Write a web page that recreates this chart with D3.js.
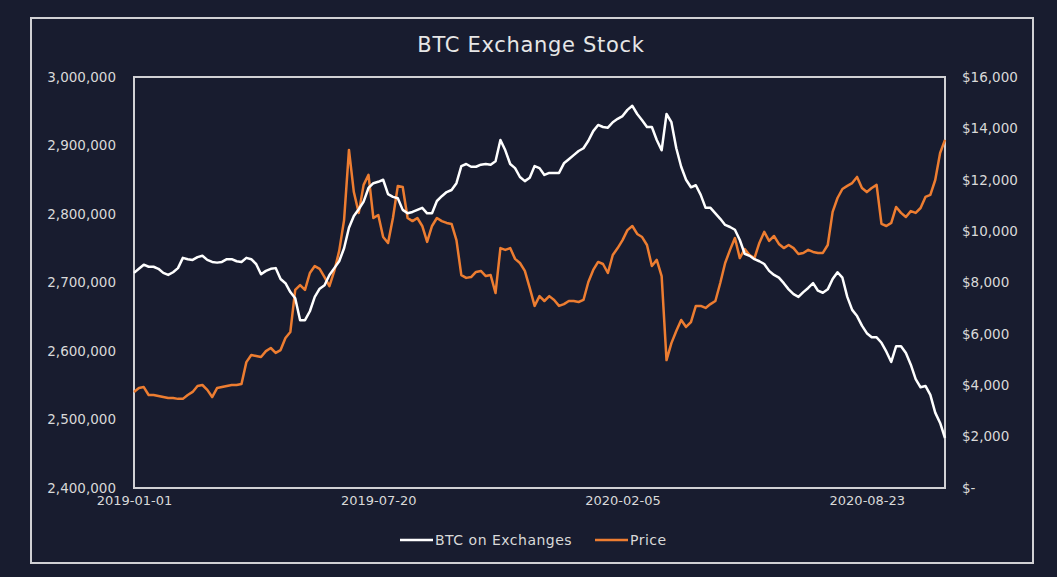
<!DOCTYPE html>
<html>
<head>
<meta charset="utf-8">
<script src="https://cdn.jsdelivr.net/npm/d3@7"></script>
<style>
  html, body { margin: 0; padding: 0; background: #181c2f; }
  svg { display: block; }
  text { font-family: "DejaVu Sans", sans-serif; fill: #d9d9d9; }
</style>
</head>
<body>
<div id="chart"></div>
<script>
// dates every 4 days, 2019-01-01 .. 2020-10-26
var dates = [
  "2019-01-01","2019-01-05","2019-01-09","2019-01-13","2019-01-17","2019-01-21","2019-01-25","2019-01-29",
  "2019-02-02","2019-02-06","2019-02-10","2019-02-14","2019-02-18","2019-02-22","2019-02-26",
  "2019-03-02","2019-03-06","2019-03-10","2019-03-14","2019-03-18","2019-03-22","2019-03-26","2019-03-30",
  "2019-04-03","2019-04-07","2019-04-11","2019-04-15","2019-04-19","2019-04-23","2019-04-27",
  "2019-05-01","2019-05-05","2019-05-09","2019-05-13","2019-05-17","2019-05-21","2019-05-25","2019-05-29",
  "2019-06-02","2019-06-06","2019-06-10","2019-06-14","2019-06-18","2019-06-22","2019-06-26","2019-06-30",
  "2019-07-04","2019-07-08","2019-07-12","2019-07-16","2019-07-20","2019-07-24","2019-07-28",
  "2019-08-01","2019-08-05","2019-08-09","2019-08-13","2019-08-17","2019-08-21","2019-08-25","2019-08-29",
  "2019-09-02","2019-09-06","2019-09-10","2019-09-14","2019-09-18","2019-09-22","2019-09-26","2019-09-30",
  "2019-10-04","2019-10-08","2019-10-12","2019-10-16","2019-10-20","2019-10-24","2019-10-28",
  "2019-11-01","2019-11-05","2019-11-09","2019-11-13","2019-11-17","2019-11-21","2019-11-25","2019-11-29",
  "2019-12-03","2019-12-07","2019-12-11","2019-12-15","2019-12-19","2019-12-23","2019-12-27","2019-12-31",
  "2020-01-04","2020-01-08","2020-01-12","2020-01-16","2020-01-20","2020-01-24","2020-01-28",
  "2020-02-01","2020-02-05","2020-02-09","2020-02-13","2020-02-17","2020-02-21","2020-02-25","2020-02-29",
  "2020-03-04","2020-03-08","2020-03-12","2020-03-16","2020-03-20","2020-03-24","2020-03-28",
  "2020-04-01","2020-04-05","2020-04-09","2020-04-13","2020-04-17","2020-04-21","2020-04-25","2020-04-29",
  "2020-05-03","2020-05-07","2020-05-11","2020-05-15","2020-05-19","2020-05-23","2020-05-27","2020-05-31",
  "2020-06-04","2020-06-08","2020-06-12","2020-06-16","2020-06-20","2020-06-24","2020-06-28",
  "2020-07-02","2020-07-06","2020-07-10","2020-07-14","2020-07-18","2020-07-22","2020-07-26","2020-07-30",
  "2020-08-03","2020-08-07","2020-08-11","2020-08-15","2020-08-19","2020-08-23","2020-08-27","2020-08-31",
  "2020-09-04","2020-09-08","2020-09-12","2020-09-16","2020-09-20","2020-09-24","2020-09-28",
  "2020-10-02","2020-10-06","2020-10-10","2020-10-14","2020-10-18","2020-10-22","2020-10-26"
];

// BTC held on exchanges (thousands of BTC)
var btcOnExchanges = [
  2714,2720,2726,2723,2723,2720,2714,2711,2715,2721,2736,2734,2733,2737,2739,
  2733,2730,2729,2730,2734,2734,2731,2730,2736,2734,2727,2712,2717,2720,2721,
  2705,2699,2686,2677,2645,2645,2658,2679,2691,2696,2711,2721,2731,2750,2780,2797,
  2807,2818,2838,2845,2847,2850,2829,2825,2823,2806,2801,2803,2806,2809,2801,
  2801,2819,2826,2832,2835,2845,2870,2873,2869,2869,2872,2873,2872,2877,2908,
  2893,2873,2867,2854,2848,2853,2870,2867,2857,2860,2860,2860,2874,2880,2886,2892,
  2896,2907,2921,2930,2927,2926,2934,2939,2943,2952,2958,2946,2937,2927,2927,
  2908,2893,2946,2934,2896,2869,2850,2839,2842,2828,2809,2809,2801,2793,2784,
  2781,2777,2762,2742,2739,2734,2731,2727,2717,2711,2707,2699,2690,2683,2679,
  2686,2692,2699,2688,2685,2690,2705,2715,2707,2679,2660,2651,2637,2626,2620,2620,
  2612,2599,2584,2607,2607,2597,2580,2559,2547,2549,2536,2510,2495,2473
];

// BTC price, USD
var price = [
  3740,3890,3930,3620,3620,3580,3540,3500,3500,3470,3470,3620,3740,3970,4010,
  3820,3540,3890,3930,3970,4010,4010,4050,4900,5180,5140,5100,5330,5450,5260,
  5370,5840,6070,7710,7900,7710,8370,8640,8530,8210,7860,8450,9230,10430,13160,11520,
  10710,11800,12190,10510,10630,9770,9540,10510,11760,11720,10510,10390,10510,10200,9580,
  10200,10510,10390,10320,10280,9650,8290,8180,8210,8410,8450,8250,8290,7590,9340,
  9270,9340,8920,8760,8450,7790,7090,7470,7280,7470,7320,7090,7160,7280,7280,7240,
  7320,8020,8490,8800,8720,8370,9070,9340,9650,10040,10200,9890,9770,9460,8640,
  8880,8250,4980,5640,6110,6540,6270,6460,7090,7090,7010,7160,7280,7980,8760,
  9270,9730,8950,9300,9070,8950,9540,9970,9620,9810,9500,9340,9460,9340,9110,
  9150,9270,9190,9150,9150,9460,10750,11290,11640,11760,11870,12110,11680,11520,11680,11800,
  10280,10200,10320,10940,10710,10550,10780,10710,10900,11330,11410,11990,13040,13550
];

var xTickDates = ["2019-01-01", "2019-07-20", "2020-02-05", "2020-08-23"];
var leftTicks = [2400000, 2500000, 2600000, 2700000, 2800000, 2900000, 3000000];
var rightTicks = [0, 2000, 4000, 6000, 8000, 10000, 12000, 14000, 16000];

var W = 1057, H = 577;
var margin = { top: 77, right: 112, bottom: 89, left: 134 },
    width = W - margin.left - margin.right,
    height = H - margin.top - margin.bottom;

var parse = d3.timeParse("%Y-%m-%d");
var fmtDate = d3.timeFormat("%Y-%m-%d");

var btcData = dates.map(function (d, i) {
    return { date: parse(d), value: btcOnExchanges[i] * 1000 };
});
var priceData = dates.map(function (d, i) {
    return { date: parse(d), value: price[i] };
});

var svg = d3.select("#chart")
    .append("svg")
    .attr("width", W)
    .attr("height", H);

svg.append("rect")
    .attr("width", W).attr("height", H)
    .attr("fill", "#181c2f");

// outer frame
svg.append("rect")
    .attr("x", 31).attr("y", 18)
    .attr("width", 1002).attr("height", 545)
    .attr("fill", "none")
    .attr("stroke", "#d0d0d4")
    .attr("stroke-width", 2);

svg.append("text")
    .attr("x", 531).attr("y", 52)
    .attr("text-anchor", "middle")
    .style("font-size", "21px")
    .style("letter-spacing", "0.7px")
    .style("fill", "#e6e6e6")
    .text("BTC Exchange Stock");

var g = svg.append("g")
    .attr("transform", "translate(" + margin.left + "," + margin.top + ")");

var x = d3.scaleTime()
    .domain([parse(dates[0]), parse(dates[dates.length - 1])])
    .range([0, width]);

var yL = d3.scaleLinear().domain([2400000, 3000000]).range([height, 0]);
var yR = d3.scaleLinear().domain([0, 16000]).range([height, 0]);

// left axis
var leftAxis = g.append("g")
    .call(d3.axisLeft(yL).tickValues(leftTicks).tickSize(0).tickPadding(18)
        .tickFormat(d3.format(",")));
leftAxis.select(".domain").remove();
leftAxis.selectAll("text").style("font-size", "13.5px").style("fill", "#d9d9d9");

// right axis
var rightAxis = g.append("g")
    .attr("transform", "translate(" + width + ",0)")
    .call(d3.axisRight(yR).tickValues(rightTicks).tickSize(0).tickPadding(17)
        .tickFormat(function (d) { return d === 0 ? "$-" : "$" + d3.format(",")(d); }));
rightAxis.select(".domain").remove();
rightAxis.selectAll("text").style("font-size", "13.5px").style("fill", "#d9d9d9");

// bottom axis
var bottomAxis = g.append("g")
    .attr("transform", "translate(0," + height + ")")
    .call(d3.axisBottom(x).tickValues(xTickDates.map(parse)).tickSize(0).tickPadding(8)
        .tickFormat(fmtDate));
bottomAxis.select(".domain").remove();
bottomAxis.selectAll("text").style("font-size", "13px").style("fill", "#d9d9d9");

// plot border
g.append("rect")
    .attr("width", width).attr("height", height)
    .attr("fill", "none")
    .attr("stroke", "#d0d0d4")
    .attr("stroke-width", 2);

var btcLine = d3.line()
    .x(function (d) { return x(d.date); })
    .y(function (d) { return yL(d.value); });

var priceLine = d3.line()
    .x(function (d) { return x(d.date); })
    .y(function (d) { return yR(d.value); });

g.append("path")
    .datum(priceData)
    .attr("d", priceLine)
    .attr("fill", "none")
    .attr("stroke", "#ed7d31")
    .attr("stroke-width", 2.5)
    .attr("stroke-linejoin", "round");

g.append("path")
    .datum(btcData)
    .attr("d", btcLine)
    .attr("fill", "none")
    .attr("stroke", "#ffffff")
    .attr("stroke-width", 2.5)
    .attr("stroke-linejoin", "round");

// legend
var legend = svg.append("g").attr("transform", "translate(0,540)");
var items = [
    { name: "BTC on Exchanges", color: "#ffffff", x: 400 },
    { name: "Price", color: "#ed7d31", x: 595 }
];
items.forEach(function (it) {
    legend.append("line")
        .attr("x1", it.x).attr("x2", it.x + 33)
        .attr("y1", 0).attr("y2", 0)
        .attr("stroke", it.color)
        .attr("stroke-width", 2.5);
    legend.append("text")
        .attr("x", it.x + 35).attr("y", 5)
        .style("font-size", "14px")
        .style("letter-spacing", "0.5px")
        .text(it.name);
});
</script>
</body>
</html>
